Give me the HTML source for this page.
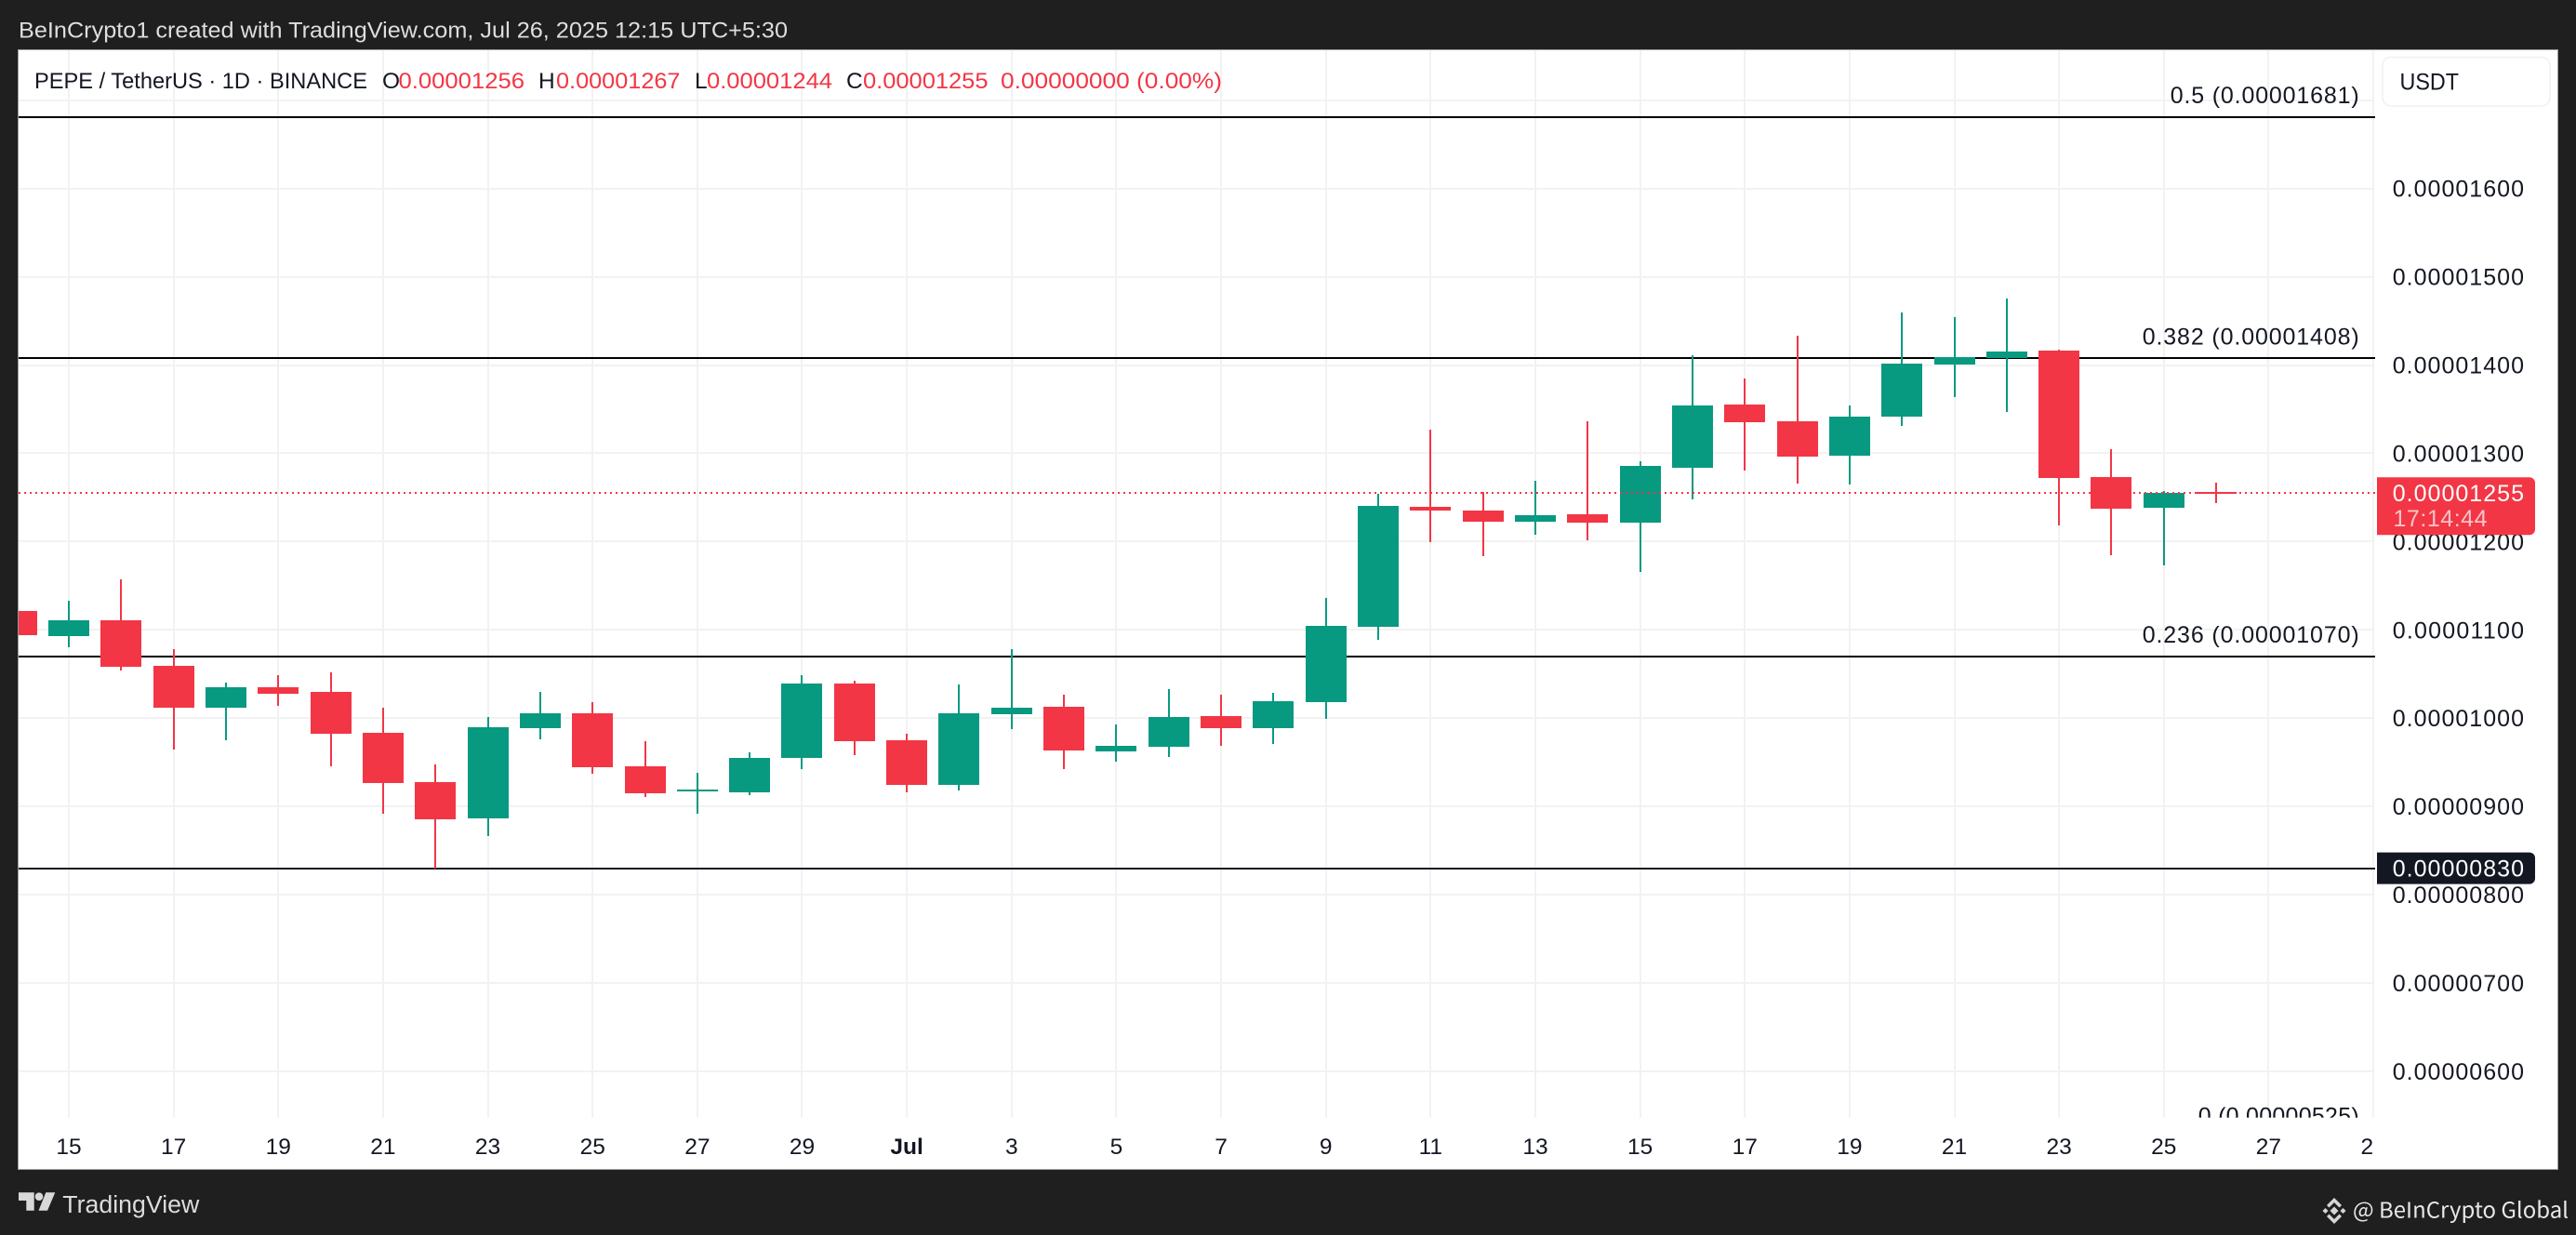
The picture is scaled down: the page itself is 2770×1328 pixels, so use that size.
<!DOCTYPE html>
<html lang="en">
<head>
<meta charset="utf-8">
<title>PEPE / TetherUS 1D chart</title>
<style>
  html, body { margin: 0; padding: 0; background: #1f1f1f; }
  svg { display: block; font-family: "Liberation Sans", sans-serif; }
</style>
</head>
<body>
<svg id="chart" xmlns="http://www.w3.org/2000/svg" width="2770" height="1328" viewBox="0 0 2770 1328">
  <defs>
    <clipPath id="plot-clip"><rect x="20" y="54" width="2534" height="1147.7"></rect></clipPath>
    <clipPath id="time-clip"><rect x="20" y="1202" width="2533" height="54"></rect></clipPath>
  </defs>
  <rect x="0" y="0" width="2770" height="1328" fill="#1f1f1f"></rect>
  <text x="20" y="40.5" font-size="24" fill="#dedede" textLength="827" lengthAdjust="spacingAndGlyphs">BeInCrypto1 created with TradingView.com, Jul 26, 2025 12:15 UTC+5:30</text>
  <rect x="19.5" y="53.5" width="2731" height="1204" fill="#ffffff" stroke="#9a9a9a" stroke-width="1"></rect>

  <g id="grid"></g>
  <g id="plot" clip-path="url(#plot-clip)"></g>
  <g id="price-axis"></g>
  <g id="time-axis" clip-path="url(#time-clip)"></g>

  <g font-size="24.5" fill="#131722">
    <text x="37" y="95" textLength="358" lengthAdjust="spacingAndGlyphs">PEPE / TetherUS · 1D · BINANCE</text>
    <text x="411" y="95">O</text>
    <text x="428.5" y="95" fill="#f23645" textLength="135.5" lengthAdjust="spacingAndGlyphs">0.00001256</text>
    <text x="579" y="95">H</text>
    <text x="598" y="95" fill="#f23645" textLength="133.5" lengthAdjust="spacingAndGlyphs">0.00001267</text>
    <text x="747" y="95">L</text>
    <text x="760" y="95" fill="#f23645" textLength="135" lengthAdjust="spacingAndGlyphs">0.00001244</text>
    <text x="910" y="95">C</text>
    <text x="928" y="95" fill="#f23645" textLength="134.5" lengthAdjust="spacingAndGlyphs">0.00001255</text>
    <text x="1076" y="95" fill="#f23645" textLength="238" lengthAdjust="spacingAndGlyphs">0.00000000 (0.00%)</text>
  </g>

  <g>
    <rect x="2562" y="61.5" width="180" height="52.5" rx="9" fill="#ffffff" stroke="#f0f0f0" stroke-width="1.5"></rect>
    <text x="2580.5" y="96.5" font-size="25" fill="#131722" textLength="63.5" lengthAdjust="spacingAndGlyphs">USDT</text>
  </g>

  <g>
    <polygon points="20,1282.3 36.7,1282.3 36.7,1301.7 28.3,1301.7 28.3,1291 20,1291" fill="#d8d8d8"></polygon>
    <circle cx="42" cy="1286.7" r="4.3" fill="#d8d8d8"></circle>
    <polygon points="49.3,1282.3 59.3,1282.3 51,1301.7 41.5,1301.7" fill="#d8d8d8"></polygon>
    <text x="67.3" y="1304" font-size="25.5" fill="#dcdcdc" textLength="147" lengthAdjust="spacingAndGlyphs">TradingView</text>
  </g>

  <g>
    <g fill="#d6d6d6">
      <polygon points="2510,1297.5 2514.5,1302 2510,1306.5 2505.5,1302"></polygon>
      <polygon points="2500.5,1299 2503.5,1302 2500.5,1305 2497.5,1302"></polygon>
      <polygon points="2519.5,1299 2522.5,1302 2519.5,1305 2516.5,1302"></polygon>
      <polygon points="2510,1288 2518,1296 2515.5,1298.5 2510,1293 2504.5,1298.5 2502,1296"></polygon>
      <polygon points="2510,1316 2518,1308 2515.5,1305.5 2510,1311 2504.5,1305.5 2502,1308"></polygon>
    </g>
    <text x="2530" y="1309.5" font-size="23.5" fill="#e8e8e8" style="font-family:'Noto Sans CJK SC','Liberation Sans',sans-serif" textLength="232" lengthAdjust="spacingAndGlyphs">@ BeInCrypto Global</text>
  </g>
</svg>

<script>
// All prices below are expressed in units of 0.00000001 USDT.
const categories = ['Jun 14','Jun 15','Jun 16','Jun 17','Jun 18','Jun 19','Jun 20','Jun 21','Jun 22','Jun 23','Jun 24','Jun 25','Jun 26','Jun 27','Jun 28','Jun 29','Jun 30','Jul 1','Jul 2','Jul 3','Jul 4','Jul 5','Jul 6','Jul 7','Jul 8','Jul 9','Jul 10','Jul 11','Jul 12','Jul 13','Jul 14','Jul 15','Jul 16','Jul 17','Jul 18','Jul 19','Jul 20','Jul 21','Jul 22','Jul 23','Jul 24','Jul 25','Jul 26'];
const opens  = [1121.5,1093,1110.9,1059.3,1011.9,1035.1,1029.8,983.4,927.6,886.5,988.7,1005.6,945.5,917.1,916,955,1039.3,975,924.5,1004.5,1013,962.4,967.6,1002.4,988.7,1018.2,1103.6,1239.4,1235.2,1222.6,1231,1221.5,1283.7,1355.3,1336.3,1297.4,1341.6,1400.6,1408,1416.4,1273.1,1238.4,1256];
const highs  = [1130,1133,1157.3,1078.3,1040.3,1048.8,1051.9,1011.9,947.6,1001.4,1029.8,1018.2,974,938.2,961.3,1048.8,1042.4,982.4,1038.2,1078.3,1026.6,992.9,1033,1026.6,1028.8,1136.2,1254.2,1326.9,1256.3,1269,1336.4,1291,1411,1384.8,1433.2,1354.2,1459.6,1454.3,1475.4,1417.4,1304.7,1257.3,1267];
const lows   = [1085,1080.4,1054,964.5,975,1014,945.5,891.8,830,866.5,976.1,937.1,910.8,891.8,912.9,942.4,958.2,916,918.1,987.7,942.4,950.8,956.1,968.7,970.8,999.3,1088.8,1199.4,1183.6,1207.8,1201.5,1165.7,1247.9,1280.5,1265.8,1264.7,1331.1,1363.7,1346.9,1218.4,1184.6,1173,1244];
const closes = [1094.1,1110.9,1058.2,1011.9,1035.1,1027.7,982.4,926.6,885.5,989.8,1005.6,944.5,915,919.2,955,1039.3,974,924.5,1005.6,1011.9,963.4,968.7,1001.4,988.7,1019.3,1104.6,1240.5,1235.2,1222.6,1230,1221.5,1285.8,1354.3,1335.3,1296.3,1341.6,1401.6,1409,1415.3,1272.1,1237.3,1255.2,1255];

const priceTicks = [600,700,800,900,1000,1100,1200,1300,1400,1500,1600];
const gridPriceTicks = [600,700,800,900,1000,1100,1200,1300,1400,1500,1600,1700];
const timeTickLabels = ['15','17','19','21','23','25','27','29','Jul','3','5','7','9','11','13','15','17','19','21','23','25','27','29'];
const fibLevels = [0.5,0.382,0.236,0];
const fibPrices = [1681,1408,1070,525];
const supportPrice = 830;
const lastPrice = 1255;
const countdown = '17:14:44';

// Axis functions
function xScale(dayIndex) { return 74 + 56.32 * dayIndex; }       // dayIndex 0 = Jun 15
function yScale(price) { return 1152 - (price - 600) * 0.9493; }
function fmt(price) { return (price * 1e-8).toFixed(8); }

const NS = 'http://www.w3.org/2000/svg';
function make(tag, parent, props) {
  const el = document.createElementNS(NS, tag);
  Object.keys(props).forEach(function (k) { el.setAttribute(k, props[k]); });
  parent.appendChild(el);
  return el;
}

const GREEN = '#089981', RED = '#f23645', GRID = '#f2f2f2';
const gridG = document.getElementById('grid');
const plotG = document.getElementById('plot');
const priceG = document.getElementById('price-axis');
const timeG = document.getElementById('time-axis');

// Grid
gridPriceTicks.forEach(function (p) {
  const y = Math.round(yScale(p));
  const l = make('line', gridG, { x1: 20, x2: 2553, y1: y, y2: y, stroke: GRID, 'stroke-width': 2 });
  
  
});
timeTickLabels.forEach(function (label, i) {
  const x = Math.round(xScale(i * 2));
  const l = make('line', gridG, { x1: x, x2: x, y1: 54, y2: 1201.7, stroke: GRID, 'stroke-width': 2 });
  
  
});

// Fibonacci levels
fibLevels.forEach(function (level, i) {
  const y = Math.round(yScale(fibPrices[i]));
  const l = make('line', plotG, { x1: 20, x2: 2554, y1: y, y2: y, stroke: '#000000', 'stroke-width': 2 });
  
  
  const t = make('text', plotG, { x: 2536.7, y: yScale(fibPrices[i]) - 23.5 + 8.9, 'text-anchor': 'end', 'font-size': 25, fill: '#131722' });
  
  
  const str = String(level) + ' (' + fmt(fibPrices[i]) + ')';
  t.textContent = str;
  t.setAttribute('textLength', (str.length - 16) * 15 + 203);
  t.setAttribute('lengthAdjust', 'spacing');
});

// Support line
const supportLineY = Math.round(yScale(supportPrice));
const supportLine = make('line', plotG, { x1: 20, x2: 2554, y1: supportLineY, y2: supportLineY, stroke: '#131722', 'stroke-width': 2 });



// Candles
categories.forEach(function (cat, i) {
  const x = Math.round(xScale(i - 1));
  const color = closes[i] >= opens[i] ? GREEN : RED;
  const g = make('g', plotG, { 'shape-rendering': 'crispEdges' });
  
  
  const hiY = Math.round(yScale(highs[i]));
  const loY = Math.round(yScale(lows[i]));
  const wick = make('rect', g, { x: x - 1, y: hiY, width: 2, height: loY - hiY, fill: color });
  
  
  const top = Math.round(yScale(Math.max(opens[i], closes[i])));
  const bot = Math.round(yScale(Math.min(opens[i], closes[i])));
  const body = make('rect', g, { x: x - 22, y: top, width: 44, height: Math.max(2, bot - top), fill: color });
  
  
});

// Last-price dotted line
const lastLineY = Math.round(yScale(lastPrice));
const lastLine = make('line', plotG, { x1: 20, x2: 2554, y1: lastLineY, y2: lastLineY, stroke: RED, 'stroke-width': 2, 'stroke-dasharray': '2 4' });



// Price axis ticks
priceTicks.forEach(function (p) {
  const t = make('text', priceG, { x: 2572.7, y: yScale(p) + 8.9, 'font-size': 25, fill: '#131722', textLength: 141.3, lengthAdjust: 'spacing' });
  
  
  t.textContent = fmt(p);
});

// Last price badge
const lastY = yScale(lastPrice);
const lastBadge = make('path', priceG, { d: 'M2556 ' + (lastY - 17) + 'H2720a6 6 0 0 1 6 6V' + (lastY + 39) + 'a6 6 0 0 1 -6 6H2556Z', fill: RED });


const lastText = make('text', priceG, { x: 2572.7, y: lastY + 8.9, 'font-size': 25, fill: '#ffffff', textLength: 141.3, lengthAdjust: 'spacing' });


lastText.textContent = fmt(lastPrice);
const cdText = make('text', priceG, { x: 2573.5, y: lastY + 35.9, 'font-size': 25, fill: '#ffffff', 'fill-opacity': 0.7, textLength: 101, lengthAdjust: 'spacing' });


cdText.textContent = countdown;

// Support badge
const supY = yScale(supportPrice);
const supBadge = make('path', priceG, { d: 'M2556 ' + (supY - 17) + 'H2720a6 6 0 0 1 6 6V' + (supY + 11) + 'a6 6 0 0 1 -6 6H2556Z', fill: '#131722' });


const supText = make('text', priceG, { x: 2572.7, y: supY + 8.9, 'font-size': 25, fill: '#ffffff', textLength: 141.3, lengthAdjust: 'spacing' });


supText.textContent = fmt(supportPrice);

// Time axis labels
timeTickLabels.forEach(function (label, i) {
  const t = make('text', timeG, { x: xScale(i * 2), y: 1241, 'text-anchor': 'middle', 'font-size': 24.5, fill: '#131722' });
  if (label === 'Jul') { t.setAttribute('font-weight', 'bold'); }
  
  
  t.textContent = label;
});
</script>
</body>
</html>
